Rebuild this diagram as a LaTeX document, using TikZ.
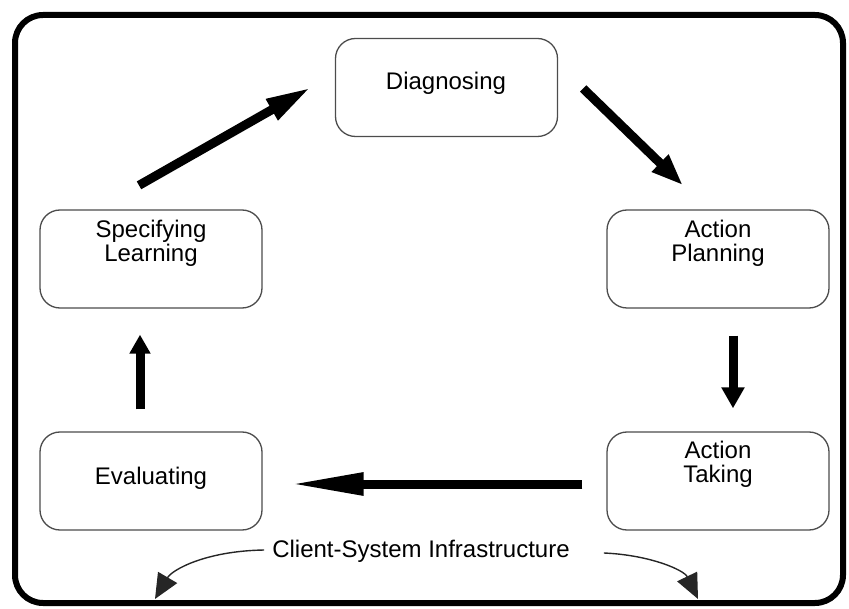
\documentclass[tikz,border=0pt]{standalone}
\usepackage{fontspec}
\setmainfont{Liberation Sans}
\usetikzlibrary{arrows.meta,calc}
\begin{document}
\begin{tikzpicture}[x=1pt,y=-1pt,
  stage/.style={draw=black!70, line width=1.3pt, rounded corners=20pt,
    minimum width=222pt, minimum height=98pt, inner sep=0pt},
  caption/.style={font=\fontsize{24}{24}\selectfont, align=center, inner sep=0pt},
  flow/.style={line width=9pt, draw=black},
  thin flow/.style={line width=1.4pt, draw=black!85}
]
\useasboundingbox (0,0) rectangle (849,609);
% outer frame
\draw[line width=6pt, rounded corners=28pt] (15,15) rectangle (843,603);

% the five stages of the cycle
\node[stage] (dg) at (446.5,87.5) {};
\node[stage] (sl) at (151,259) {};
\node[stage] (ap) at (718,259) {};
\node[stage] (ev) at (151,481) {};
\node[stage] (at) at (718,481) {};

\node[caption] (dgt) at (446,83) {Diagnosing};
\node[caption] (slt) at (151,243) {Specifying\\Learning};
\node[caption] (apt) at (718,243) {Action\\Planning};
\node[caption] (evt) at (151,478) {Evaluating};
\node[caption] (att) at (718,464) {Action\\Taking};

% cycle arrows
\draw[flow, -{Triangle[length=45pt,width=22pt]}]
  ($(sl.north)+(-12,-24)$) -- ($(dg.west)+(-24,0)$);
\draw[flow, -{Triangle[length=32pt,width=22pt]}]
  ($(dg.east)+(25,1)$) -- ($(ap.north)+(-35,-24)$);
\draw[flow, -{Triangle[length=21pt,width=22pt]}]
  ($(ap.south)+(15,27)$) -- ($(at.north)+(15,-23)$);
\draw[flow, -{Triangle[length=74pt,width=21pt]}]
  ($(at.west)+(-24,3)$) -- ($(ev.east)+(27,3)$);
\draw[flow, -{Triangle[length=19pt,width=20pt]}]
  ($(ev.north)+(-11,-22)$) -- ($(sl.south)+(-11,26)$);

% infrastructure caption and its two curved arrows
\node[caption] (infra) at (421,551) {Client-System Infrastructure};
\coordinate (infraL) at (155,599);
\coordinate (infraR) at (698,599);
\draw[thin flow, -{Triangle[length=25pt,width=22pt]}]
  ($(infra.west)+(-8,-1)$) .. controls (205,551) and (172,570) .. (infraL);
\draw[thin flow, -{Triangle[length=25pt,width=22pt]}]
  ($(infra.east)+(34,2)$) .. controls (650,555) and (684,570) .. (infraR);
\end{tikzpicture}
\end{document}
